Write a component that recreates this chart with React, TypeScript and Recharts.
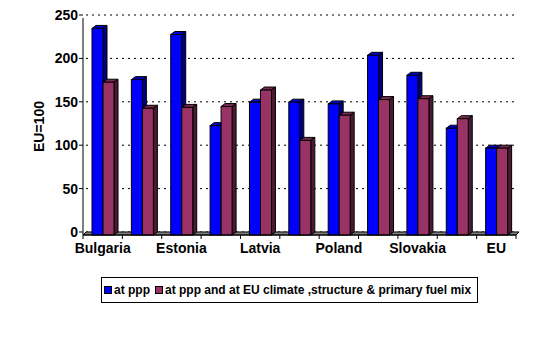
import React from "react";
import {
  BarChart,
  Bar,
  XAxis,
  YAxis,
  CartesianGrid,
  ReferenceArea,
} from "recharts";

const categories = [
  "Bulgaria",
  "Czech Republic",
  "Estonia",
  "Hungary",
  "Latvia",
  "Lithuania",
  "Poland",
  "Romania",
  "Slovakia",
  "Slovenia",
  "EU",
];
const atPpp = [238, 179, 231, 126, 153, 153, 151, 207, 184, 123, 100];
const atPppEuMix = [176, 146, 147, 148, 167, 109, 138, 156, 157, 134, 100];
const yTicks = [0, 50, 100, 150, 200, 250];

const seriesNames = [
  "at ppp",
  "at ppp and at EU climate ,structure & primary fuel mix",
];

const data = categories.map((name, i) => ({
  name,
  atPpp: atPpp[i],
  atPppEuMix: atPppEuMix[i],
}));

const FONT = '"Liberation Sans", Arial, sans-serif';
const DX = 4;
const DY = 3;

function Box3D(props: any) {
  const { x, y, width, height, fill, top, side } = props;
  if (!height || height <= 0) return null;
  const r = x + width;
  const b = y + height;
  return (
    <g>
      <polygon
        points={`${x},${y} ${x + DX},${y - DY} ${r + DX},${y - DY} ${r},${y}`}
        fill={top}
        stroke="#000"
        strokeWidth={1}
      />
      <polygon
        points={`${r},${y} ${r + DX},${y - DY} ${r + DX},${b - DY} ${r},${b}`}
        fill={side}
        stroke="#000"
        strokeWidth={1}
      />
      <rect x={x} y={y} width={width} height={height} fill={fill} stroke="#000" strokeWidth={1} />
    </g>
  );
}

function Floor(props: any) {
  const { x, y, width, height } = props;
  const b = y + height;
  return (
    <polygon
      points={`${x},${b} ${x + width},${b} ${x + width + DY},${y} ${x + DY},${y}`}
      fill="#808080"
      stroke="#000"
      strokeWidth={1}
    />
  );
}

function XTick(props: any) {
  const { x, y, payload, index } = props;
  const half = payload?.offset ?? 19.7;
  const last = index === categories.length - 1;
  return (
    <g>
      <line x1={x - half} y1={y} x2={x - half} y2={y + 4} stroke="#000" />
      {last && <line x1={x + half} y1={y} x2={x + half} y2={y + 4} stroke="#000" />}
      {index % 2 === 0 && (
        <text
          x={x}
          y={y + 18}
          textAnchor="middle"
          fontFamily={FONT}
          fontWeight="bold"
          fontSize={14}
          fill="#000"
        >
          {payload.value}
        </text>
      )}
    </g>
  );
}

function YTick(props: any) {
  const { x, y, payload } = props;
  return (
    <g>
      <line x1={x} y1={y - DY} x2={x + 4} y2={y - DY} stroke="#000" />
      <text
        x={x - 1}
        y={y - DY}
        dy="0.35em"
        textAnchor="end"
        fontFamily={FONT}
        fontWeight="bold"
        fontSize={14}
        fill="#000"
      >
        {payload.value}
      </text>
    </g>
  );
}

function GridLine(p: any) {
  return (
    <line
      key={`g-${p.index}-${p.y1}`}
      x1={p.x1 + DY}
      y1={p.y1 - DY}
      x2={p.x2}
      y2={p.y2 - DY}
      stroke="#000"
      strokeWidth={1}
      strokeDasharray="2 4"
    />
  );
}

export default function App() {
  const colors = ["#0000FF", "#993366"];
  return (
    <div style={{ position: "absolute", left: 0, top: 0, width: 544, height: 363, background: "#fff" }}>
      <BarChart
        width={544}
        height={363}
        data={data}
        margin={{ top: 18, right: 28, left: 0, bottom: 0 }}
        barGap={0}
        barSize={11}
      >
        <CartesianGrid vertical={false} horizontal={GridLine} />
        <ReferenceArea y1={0} y2={3.5} shape={Floor} ifOverflow="visible" />
        <XAxis
          dataKey="name"
          interval={0}
          height={128}
          tickSize={0}
          tickMargin={0}
          tickLine={false}
          axisLine={{ stroke: "#000" }}
          tick={XTick}
        />
        <YAxis
          width={83}
          domain={[0, 250]}
          ticks={yTicks}
          tickSize={4}
          tickMargin={0}
          tickLine={false}
          axisLine={{ stroke: "#000" }}
          tick={YTick}
          label={{
            value: "EU=100",
            angle: -90,
            position: "center",
            dx: -2,
            style: { fontFamily: FONT, fontWeight: "bold", fontSize: 14, fill: "#000" },
          }}
        />
        <Bar
          dataKey="atPpp"
          name={seriesNames[0]}
          fill={colors[0]}
          isAnimationActive={false}
          shape={(p: any) => <Box3D {...p} top="#0000CC" side="#000080" />}
        />
        <Bar
          dataKey="atPppEuMix"
          name={seriesNames[1]}
          fill={colors[1]}
          isAnimationActive={false}
          shape={(p: any) => <Box3D {...p} top="#7A2952" side="#4C1933" />}
        />
      </BarChart>
      <div
        style={{
          position: "absolute",
          left: 101,
          top: 277,
          width: 377,
          height: 26,
          boxSizing: "border-box",
          border: "1px solid #000",
          display: "flex",
          alignItems: "center",
          fontFamily: FONT,
          fontWeight: "bold",
          fontSize: 12,
          color: "#000",
          whiteSpace: "nowrap",
        }}
      >
        {seriesNames.map((n, i) => (
          <span key={n} style={{ display: "flex", alignItems: "center", marginLeft: i === 0 ? 2 : 5 }}>
            <span
              style={{
                display: "inline-block",
                width: 6,
                height: 6,
                background: colors[i],
                border: "1px solid #000",
                marginRight: 2,
              }}
            />
            {n}
          </span>
        ))}
      </div>
    </div>
  );
}
